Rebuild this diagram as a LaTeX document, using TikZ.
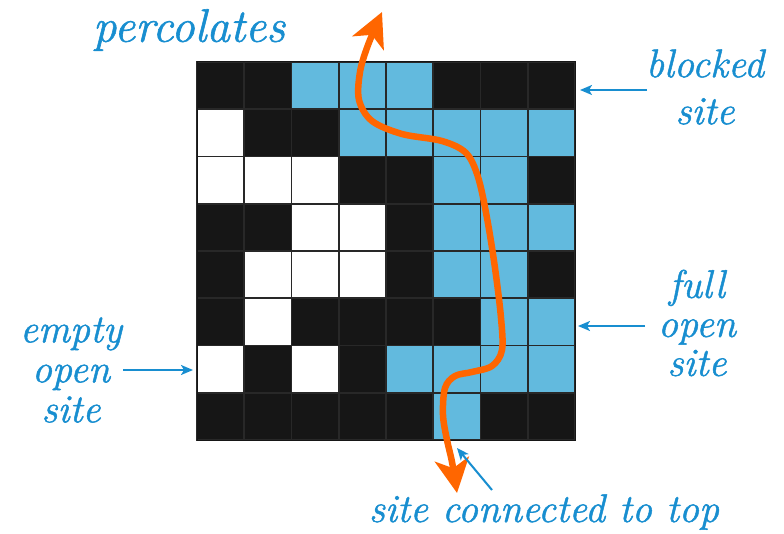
\documentclass[tikz,border=0pt]{standalone}
\usepackage{fontspec}
\usetikzlibrary{arrows.meta}
\newfontfamily\lblfont{Latin Modern Roman}[FakeBold=1.2]
\definecolor{fullblue}{RGB}{98,186,222}
\definecolor{labelblue}{RGB}{24,142,208}
\definecolor{blocked}{RGB}{22,22,22}
\definecolor{seam}{RGB}{40,40,40}
\definecolor{flow}{RGB}{255,102,0}
\tikzset{
  cellbox/.style={line width=1.6pt, draw=seam},
  lbl/.style={text=labelblue, font=\lblfont\fontsize{40}{40}\selectfont\itshape, align=center, inner sep=0pt},
  bigl/.style={lbl, font=\lblfont\fontsize{47}{47}\selectfont\itshape},
  callout/.style={draw=labelblue, line width=2pt, -{Stealth[length=12pt,width=10pt,inset=3pt]}},
  flowline/.style={draw=flow, line width=6.5pt,
    {Stealth[length=34pt,width=34pt,inset=9pt]}-{Stealth[length=34pt,width=34pt,inset=9pt]}}
}
\begin{document}
\begin{tikzpicture}[x=1pt,y=-1pt]
\useasboundingbox (0,0) rectangle (784,534);
% 8x8 site grid: b = blocked, o = empty open, f = full open
\def\cs{47.25}
\fill[blocked] (197,62) rectangle (575,440);
\foreach \r/\row in {0/{b,b,f,f,f,b,b,b},1/{o,b,b,f,f,f,f,f},2/{o,o,o,b,b,f,f,b},3/{b,b,o,o,b,f,f,f},4/{b,o,o,o,b,f,f,b},5/{b,o,b,b,b,b,f,f},6/{o,b,o,b,f,f,f,f},7/{b,b,b,b,b,f,b,b}}{
  \foreach \s [count=\c from 0] in \row {
    \if\s b\def\cc{blocked}\fi
    \if\s o\def\cc{white}\fi
    \if\s f\def\cc{fullblue}\fi
    \filldraw[cellbox, fill=\cc] ({197+\c*\cs},{62+\r*\cs}) rectangle ++(\cs,\cs);
  }
}
\draw[blocked, line width=1pt] (197,62) rectangle (575,440);

% percolating path through the full sites
\draw[flowline] plot[smooth, tension=0.55] coordinates {
  (457,493) (452,462) (447,440) (443,415) (445,388) (455,376) (472,372)
  (492,366) (502,350) (501,318) (495,268) (487,218) (478,177) (466,153)
  (442,141) (402,134) (372,121) (359,100) (360,72) (368,45) (382,12)};

% labels
\node[bigl] (perc) at (189,30) {percolates};
\node[lbl] (blk) at (705,87) {blocked\\[7pt]site};
\node[lbl] (full) at (697,323) {full\\[-1pt]open\\[-1pt]site};
\node[lbl] (empty) at (71,370) {empty\\open\\site};
\node[lbl] (conn) at (544,512) {site connected to top};

\coordinate (blkS) at (647,90);
\coordinate (blkT) at (580,90);
\coordinate (fullS) at (645,326);
\coordinate (fullT) at (578,326);
\coordinate (emptyS) at (123,370);
\coordinate (emptyT) at (193,370);
\coordinate (connS) at (492,490);
\coordinate (connT) at (457,448);
\draw[callout] (blkS) -- (blkT);
\draw[callout] (fullS) -- (fullT);
\draw[callout] (emptyS) -- (emptyT);
\draw[callout] (connS) -- (connT);
\end{tikzpicture}
\end{document}
